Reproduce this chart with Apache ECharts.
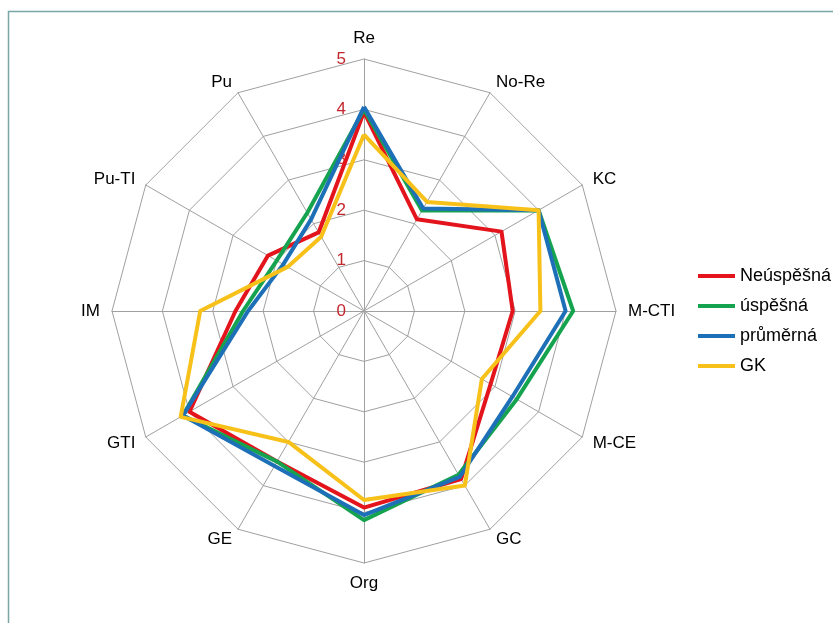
<!DOCTYPE html>
<html>
<head>
<meta charset="utf-8">
<script src="https://cdn.jsdelivr.net/npm/echarts@6/dist/echarts.min.js"></script>
<style>
html,body{margin:0;padding:0;background:#fff;}
#chart{width:833px;height:623px;}
</style>
</head>
<body>
<div id="chart"></div>
<script>
const categories = ['Re','No-Re','KC','M-CTI','M-CE','GC','Org','GE','GTI','IM','Pu-TI','Pu'];
const seriesNames = ['Neúspěšná','úspěšná','průměrná','GK'];
const neuspesna = [3.95, 2.1, 3.15, 2.95, 2.9, 3.85, 3.9, 3.45, 4.0, 2.55, 2.2, 1.8];
const uspesna   = [4.0, 2.3, 4.0, 4.15, 3.5, 3.75, 4.15, 3.45, 4.15, 2.4, 2.0, 2.25];
const prumerna  = [4.05, 2.35, 4.0, 4.0, 3.4, 3.8, 4.05, 3.55, 4.15, 2.3, 1.85, 2.1];
const gk        = [3.5, 2.5, 4.0, 3.5, 2.7, 4.0, 3.75, 3.0, 4.2, 3.25, 1.75, 1.7];
const tickMin = 0, tickMax = 5, tickStep = 1;

const colors = ['#e3141b','#16a34f','#1d70b7','#f7c11a'];
const allData = [neuspesna, uspesna, prumerna, gk];
const font = 'Liberation Sans, Arial, sans-serif';

// ECharts lays radar indicators counter-clockwise; the reference runs clockwise,
// so display order is first item then the rest reversed.
const order = [0].concat(categories.map((_, i) => i).slice(1).reverse());

const chart = echarts.init(document.getElementById('chart'), null, {renderer:'canvas'});
const indicator = order.map((idx, k) => {
  const o = {name: categories[idx], min: tickMin, max: tickMax};
  if (k === 0) {
    o.axisLabel = {show: true, color: '#c4262e', fontSize: 17, fontFamily: font, margin: 18, showMinLabel: true};
  }
  return o;
});
chart.setOption({
  backgroundColor: '#fff',
  animation: false,
  graphic: [{
    type: 'rect', left: 6, top: 9,
    shape: {width: 900, height: 700},
    style: {fill: 'none', stroke: '#7aa6a6', lineWidth: 1.5},
    silent: true
  }],
  legend: {
    orient: 'vertical', left: 693, top: 262,
    itemWidth: 37, itemHeight: 4, itemGap: 12,
    icon: 'rect',
    textStyle: {fontSize: 18, fontFamily: font, color: '#000'},
    data: seriesNames
  },
  radar: {
    center: [364, 311],
    radius: 252,
    startAngle: 90,
    shape: 'polygon',
    splitNumber: (tickMax - tickMin) / tickStep,
    indicator: indicator,
    axisName: {color: '#000', fontSize: 17, fontFamily: font},
    nameGap: 12,
    axisLine: {lineStyle: {color: '#a0a0a0', width: 1}},
    splitLine: {lineStyle: {color: '#a0a0a0', width: 1}},
    splitArea: {show: false},
    axisTick: {show: false},
    axisLabel: {show: false}
  },
  series: [{
    type: 'radar',
    symbol: 'none',
    data: allData.map((d, i) => ({
      name: seriesNames[i],
      value: order.map(idx => d[idx]),
      lineStyle: {color: colors[i], width: 4},
      itemStyle: {color: colors[i]}
    }))
  }]
});
</script>
</body>
</html>
